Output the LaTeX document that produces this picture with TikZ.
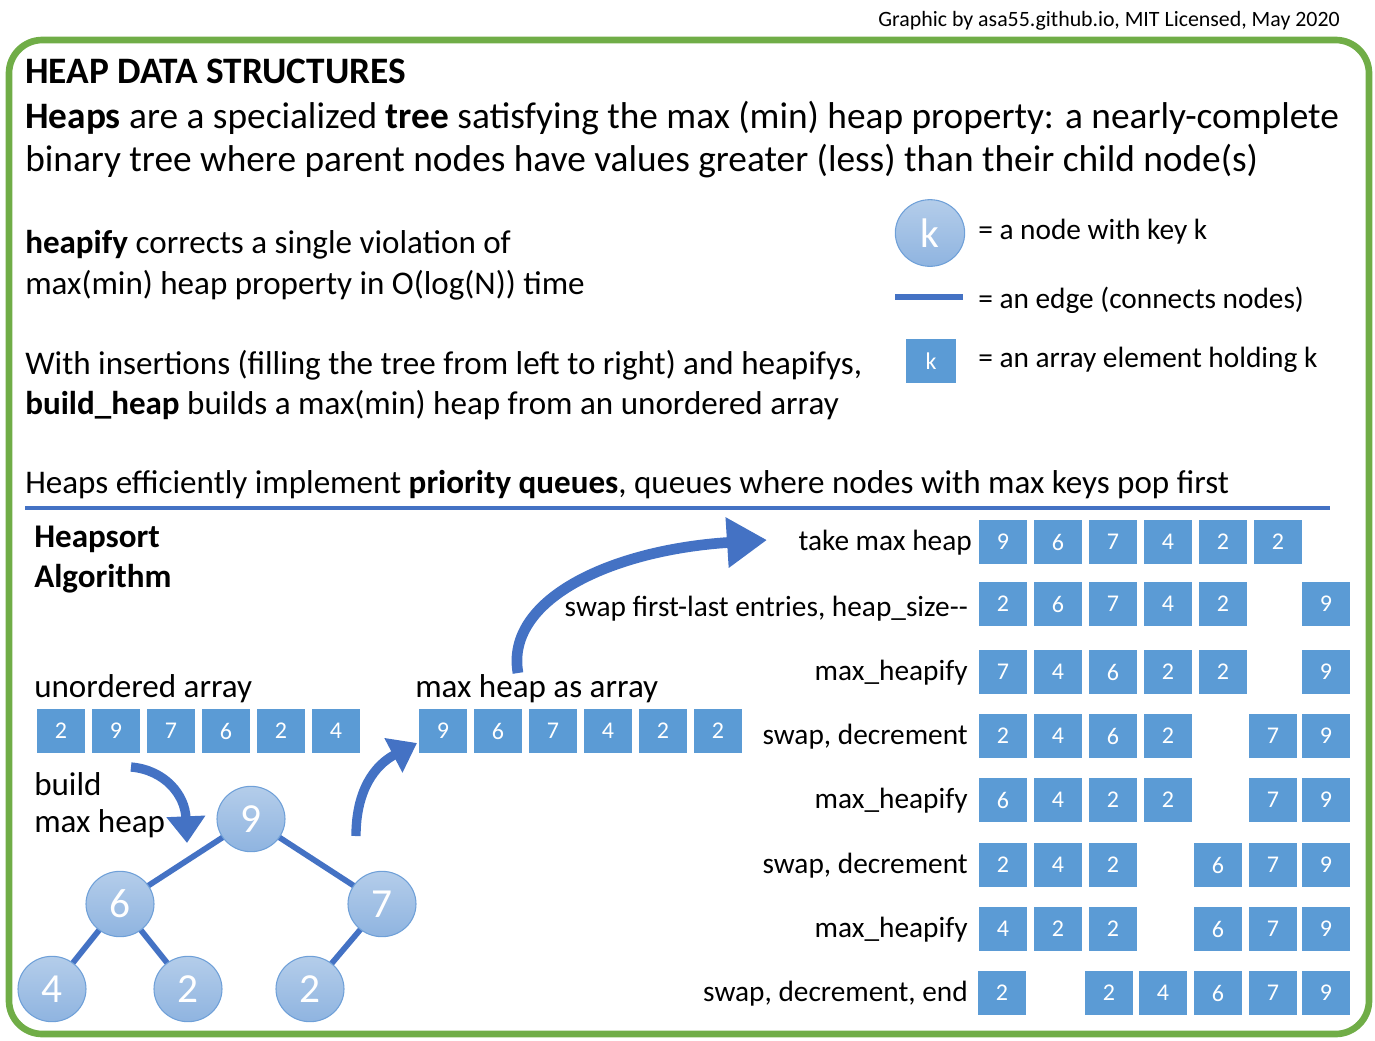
\documentclass[tikz,border=0pt]{standalone}
\usepackage{fontspec}
\setmainfont{Carlito}
\usetikzlibrary{arrows.meta,shapes.geometric}
\definecolor{cellc}{HTML}{5B9BD5}
\definecolor{edgec}{HTML}{4472C4}
\definecolor{nodetop}{HTML}{B4CDEA}
\definecolor{nodebot}{HTML}{8FB4E0}
\definecolor{nodeb}{HTML}{6FA0D8}
\definecolor{grn}{HTML}{70AD47}
\begin{document}
\begin{tikzpicture}[x=0.75pt,y=-0.75pt,
  cell/.style={fill=cellc,minimum width=36pt,minimum height=33pt,inner sep=0pt,text=white,font=\fontsize{18}{20}\selectfont},
  hn/.style={ellipse,top color=nodetop,bottom color=nodebot,draw=nodeb,line width=0.8pt,minimum width=51pt,minimum height=49pt,inner sep=0pt,text=white,font=\fontsize{31}{34}\selectfont},
  edge/.style={edgec,line width=4.3pt},
  txt/.style={anchor=west,inner sep=0pt,font=\fontsize{24.8}{29}\selectfont},
  leg/.style={anchor=west,inner sep=0pt,font=\fontsize{22}{26}\selectfont},
  lbl/.style={anchor=east,inner sep=0pt,font=\fontsize{22}{26}\selectfont},
  barrow/.style={edgec,line width=7pt,-{Triangle[length=20pt,width=28pt]}}]
\useasboundingbox (0,0) rectangle (1375,1040);
\draw[grn,line width=5pt,rounded corners=25pt] (9,40) rectangle (1369,1034);
\node[anchor=east,inner sep=0pt,font=\fontsize{16.4}{19}\selectfont] (credit) at (1340,21) {Graphic by asa55.github.io, MIT Licensed, May 2020};
\node[anchor=west,inner sep=0pt,font=\fontsize{28}{32}\selectfont\bfseries] (title) at (25,71) {HEAP DATA STRUCTURES};
\node[anchor=west,inner sep=0pt,font=\fontsize{28}{32}\selectfont] (l1) at (25,118) {\textbf{Heaps} are a specialized \textbf{tree} satisfying the max (min) heap property: a nearly-complete};
\node[anchor=west,inner sep=0pt,font=\fontsize{28}{32}\selectfont] (l2) at (25,161) {binary tree where parent nodes have values greater (less) than their child node(s)};
\node[txt] (h1) at (25,245) {\textbf{heapify} corrects a single violation of};
\node[txt] (h2) at (25,285) {max(min) heap property in O(log(N)) time};
\node[txt] (w1) at (25,365) {With insertions (filling the tree from left to right) and heapifys,};
\node[txt] (w2) at (25,405) {\textbf{build\_heap} builds a max(min) heap from an unordered array};
\node[txt] (pq) at (25,485) {Heaps efficiently implement \textbf{priority queues}, queues where nodes with max keys pop first};
\coordinate (sl) at (25,508); \coordinate (sr) at (1330,508);
\draw[edgec,line width=3pt] (sl) -- (sr);
% legend
\node[hn,minimum width=52pt,minimum height=50pt] (lk) at (930,233) {k};
\node[leg] (lkt) at (978,232) {= a node with key k};
\coordinate (le1) at (895,297); \coordinate (le2) at (963,297);
\draw[edge] (le1) -- (le2);
\node[leg] (let) at (978,300) {= an edge (connects nodes)};
\node[cell,minimum width=37pt] (lc) at (931,361) {k};
\node[leg] (lct) at (978,360) {= an array element holding k};
% heapsort
\node[txt,font=\fontsize{24.8}{29}\selectfont\bfseries] (hs1) at (34,539) {Heapsort};
\node[txt,font=\fontsize{24.8}{29}\selectfont\bfseries] (hs2) at (34,579) {Algorithm};
\node[txt] (ua) at (34,689) {unordered array};
\node[txt] (mha) at (415,689) {max heap as array};
\foreach \v [count=\i] in {2,9,7,6,2,4} \node[cell] (u\i) at (61+55*\i-55,731) {\v};
\foreach \v [count=\i] in {9,6,7,4,2,2} \node[cell] (m\i) at (443+55*\i-55,731) {\v};
\node[txt] (b1) at (34,784) {build};
\node[txt] (b2) at (34,824) {max heap};
% tree
\coordinate (p9) at (251,819); \coordinate (p6) at (120,904); \coordinate (p7) at (382,904);
\coordinate (p4) at (52,989); \coordinate (p2a) at (188,989); \coordinate (p2b) at (310,989);
\draw[edge] (p9) -- (p6); \draw[edge] (p9) -- (p7);
\draw[edge] (p6) -- (p4); \draw[edge] (p6) -- (p2a); \draw[edge] (p7) -- (p2b);
\node[hn] (t9) at (p9) {9}; \node[hn] (t6) at (p6) {6}; \node[hn] (t7) at (p7) {7};
\node[hn] (t4) at (p4) {4}; \node[hn] (t2a) at (p2a) {2}; \node[hn] (t2b) at (p2b) {2};
% arrows
\coordinate (a1s) at (131,767); \coordinate (a1e) at (187,843);
\draw[barrow] (a1s) .. controls (165,770) and (185,795) .. (a1e);
\coordinate (a2s) at (356,836); \coordinate (a2e) at (417,743);
\draw[barrow] (a2s) .. controls (356,790) and (375,765) .. (a2e);
\coordinate (a3s) at (518,673); \coordinate (a3e) at (767,540);
\draw[barrow,line width=8pt,-{Triangle[length=30pt,width=36pt]}] (a3s) .. controls (505,600) and (610,550) .. (a3e);
% right rows
\node[lbl] (r1) at (972,543) {take max heap};
\node[lbl] (r2) at (968,609) {swap first-last entries, heap\_size-{}-};
\node[lbl] (r3) at (968,673) {max\_heapify};
\node[lbl] (r4) at (968,737) {swap, decrement};
\node[lbl] (r5) at (968,801) {max\_heapify};
\node[lbl] (r6) at (968,866) {swap, decrement};
\node[lbl] (r7) at (968,930) {max\_heapify};
\node[lbl] (r8) at (968,994) {swap, decrement, end};
\foreach \x/\v [count=\i] in {1003/9,1058/6,1113/7,1168/4,1223/2,1278/2} \node[cell] (c1\i) at (\x,542) {\v};
\foreach \x/\v [count=\i] in {1003/2,1058/6,1113/7,1168/4,1223/2,1326/9} \node[cell] (c2\i) at (\x,604) {\v};
\foreach \x/\v [count=\i] in {1003/7,1058/4,1113/6,1168/2,1223/2,1326/9} \node[cell] (c3\i) at (\x,672) {\v};
\foreach \x/\v [count=\i] in {1003/2,1058/4,1113/6,1168/2,1273/7,1326/9} \node[cell] (c4\i) at (\x,736) {\v};
\foreach \x/\v [count=\i] in {1003/6,1058/4,1113/2,1168/2,1273/7,1326/9} \node[cell] (c5\i) at (\x,800) {\v};
\foreach \x/\v [count=\i] in {1003/2,1058/4,1113/2,1218/6,1273/7,1326/9} \node[cell] (c6\i) at (\x,865) {\v};
\foreach \x/\v [count=\i] in {1003/4,1058/2,1113/2,1218/6,1273/7,1326/9} \node[cell] (c7\i) at (\x,929) {\v};
\foreach \x/\v [count=\i] in {1002/2,1109/2,1163/4,1218/6,1273/7,1326/9} \node[cell] (c8\i) at (\x,993) {\v};
\end{tikzpicture}
\end{document}
